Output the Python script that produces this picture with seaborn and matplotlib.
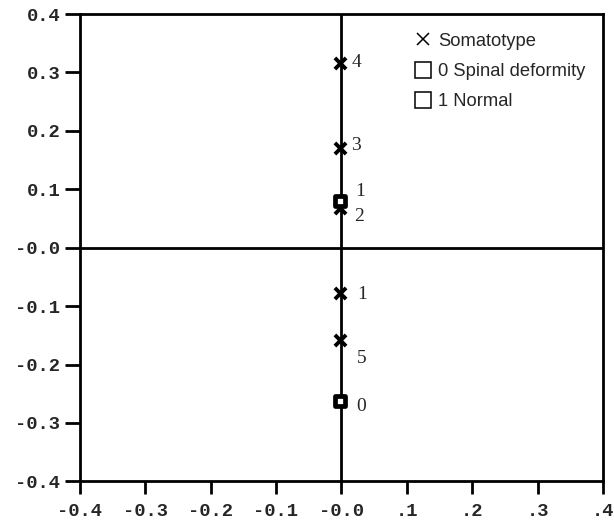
import matplotlib
matplotlib.use('Agg')
import matplotlib.pyplot as plt
from matplotlib.lines import Line2D
import seaborn as sns
import pandas as pd

# Somatotype category points (all on the y axis)
somato_labels = ['4', '3', '2', '1', '5']
somato_x = [-0.002, -0.002, -0.002, -0.002, -0.002]
somato_y = [0.317, 0.170, 0.068, -0.078, -0.158]

# spinal deformity groups
group_labels = ['1', '0']
group_x = [-0.002, -0.002]
group_y = [0.080, -0.262]

# tick labels
x_ticks = [-0.4, -0.3, -0.2, -0.1, 0.0, 0.1, 0.2, 0.3, 0.4]
x_ticklabels = ['-0.4', '-0.3', '-0.2', '-0.1', '-0.0', '.1', '.2', '.3', '.4']
y_ticks = [0.4, 0.3, 0.2, 0.1, 0.0, -0.1, -0.2, -0.3, -0.4]
y_ticklabels = ['0.4', '0.3', '0.2', '0.1', '-0.0', '-0.1', '-0.2', '-0.3', '-0.4']

legend_labels = ['Somatotype', '0 Spinal deformity', '1 Normal']

sns.set_style('ticks')

fig = plt.figure(figsize=(6.14, 5.21), dpi=100)
ax = fig.add_axes([0.130, 0.076, 0.852, 0.897])

somato = pd.DataFrame({'x': somato_x, 'y': somato_y, 'lab': somato_labels})
groups = pd.DataFrame({'x': group_x, 'y': group_y, 'lab': group_labels})

# axis cross lines
ax.axhline(0, color='black', lw=2, zorder=1)
ax.axvline(0, color='black', lw=2, zorder=1)

sns.scatterplot(data=somato, x='x', y='y', ax=ax, marker='x', s=65,
                color='black', linewidth=2.8, zorder=3, legend=False)
sns.scatterplot(data=groups, x='x', y='y', ax=ax, marker='s', s=45,
                facecolor='white', edgecolor='black', linewidth=3.4,
                zorder=3, legend=False)

# point labels (offsets in points)
somato_offsets = {'4': (8, 0), '3': (8, 2), '2': (10, -6), '1': (12, -1), '5': (12, -13)}
group_offsets = {'1': (11, 7), '0': (12, -4)}
for _, r in somato.iterrows():
    ax.annotate(r['lab'], (r['x'], r['y']), textcoords='offset points',
                xytext=somato_offsets[r['lab']], ha='left', va='center',
                fontsize=14, family='Liberation Serif')
for _, r in groups.iterrows():
    ax.annotate(r['lab'], (r['x'], r['y']), textcoords='offset points',
                xytext=group_offsets[r['lab']], ha='left', va='center',
                fontsize=14, family='Liberation Serif')

ax.set_xlim(-0.4, 0.4)
ax.set_ylim(-0.4, 0.4)
ax.set_xticks(x_ticks)
ax.set_xticklabels(x_ticklabels)
ax.set_yticks(y_ticks)
ax.set_yticklabels(y_ticklabels)
for lbl in ax.get_xticklabels() + ax.get_yticklabels():
    lbl.set_family('Liberation Mono')
    lbl.set_fontsize(13.5)
    lbl.set_fontweight('bold')
ax.tick_params(axis='x', direction='out', length=9.5, width=2, color='black', pad=6)
ax.tick_params(axis='y', direction='out', length=11, width=2, color='black', pad=3)
ax.set_xlabel('')
ax.set_ylabel('')
for sp in ax.spines.values():
    sp.set_linewidth(2)
    sp.set_color('black')

handles = [
    Line2D([], [], marker='x', ls='', color='black', markersize=8, markeredgewidth=1.1),
    Line2D([], [], marker='s', ls='', markerfacecolor='white', markeredgecolor='black',
           markersize=12, markeredgewidth=1.1),
    Line2D([], [], marker='s', ls='', markerfacecolor='white', markeredgecolor='black',
           markersize=12, markeredgewidth=1.1),
]
ax.legend(handles, legend_labels, loc='upper left', bbox_to_anchor=(0.605, 0.995),
          frameon=False, handletextpad=0.3, labelspacing=0.72, handlelength=1.1,
          prop={'family': 'Liberation Sans', 'size': 13.2})

fig.savefig('out.png', dpi=100, facecolor='white')
